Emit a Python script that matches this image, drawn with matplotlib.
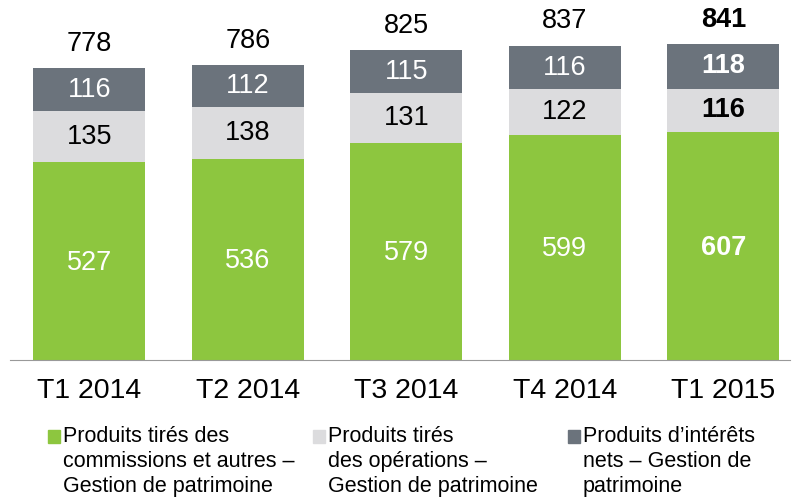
import numpy as np
import matplotlib.pyplot as plt

plt.rcParams["font.family"] = ["Liberation Sans", "DejaVu Sans"]

quarters = ["T1 2014", "T2 2014", "T3 2014", "T4 2014", "T1 2015"]
commissions = [527, 536, 579, 599, 607]
operations = [135, 138, 131, 122, 116]
interets = [116, 112, 115, 116, 118]
totals = [778, 786, 825, 837, 841]

legend_labels = [
    "Produits tirés des\ncommissions et autres –\nGestion de patrimoine",
    "Produits tirés\ndes opérations –\nGestion de patrimoine",
    "Produits d’intérêts\nnets – Gestion de\npatrimoine",
]

green = "#8DC63F"
light = "#DCDCDE"
dark = "#6B737C"

fig = plt.figure(figsize=(7.92, 4.98), dpi=100)
ax = fig.add_axes([10 / 792, 138 / 498, 780 / 792, 360 / 498])

x = np.arange(len(quarters))
w = 0.707
c = np.array(commissions)
o = np.array(operations)
i_ = np.array(interets)

ax.bar(x, c, w, color=green)
ax.bar(x, o, w, bottom=c, color=light)
ax.bar(x, i_, w, bottom=c + o, color=dark)

ax.set_xlim(-0.5, 4.42)
ax.set_ylim(0, 959)

fs = 19.5
for k in range(len(x)):
    wt = "bold" if k == len(x) - 1 else "normal"
    ax.text(x[k], c[k] / 2 - 5, str(c[k]), ha="center", va="center",
            color="white", fontsize=fs, fontweight=wt)
    ax.text(x[k], c[k] + o[k] / 2, str(o[k]), ha="center", va="center",
            color="black", fontsize=fs, fontweight=wt)
    ax.text(x[k], c[k] + o[k] + i_[k] / 2, str(i_[k]), ha="center",
            va="center", color="white", fontsize=fs, fontweight=wt)
    ax.text(x[k], totals[k] + 65, str(totals[k]), ha="center", va="center",
            color="black", fontsize=fs, fontweight=wt)

for s in ["top", "right", "left"]:
    ax.spines[s].set_visible(False)
ax.spines["bottom"].set_color("#999999")
ax.set_yticks([])
ax.set_xticks(x)
ax.set_xticklabels(quarters, fontsize=20.5)
ax.tick_params(axis="x", length=0, pad=13)

# legend drawn by hand
colors = [green, light, dark]
sq_x = [48, 313, 568]
for lab, col, sx in zip(legend_labels, colors, sq_x):
    fig.patches.append(plt.Rectangle((sx / 792, (498 - 443) / 498), 12 / 792,
                                     13 / 498, color=col,
                                     transform=fig.transFigure))
    fig.text((sx + 15) / 792, (498 - 426) / 498, lab, ha="left", va="top",
             fontsize=15.5, linespacing=1.25)

fig.savefig("out.png", dpi=100)
